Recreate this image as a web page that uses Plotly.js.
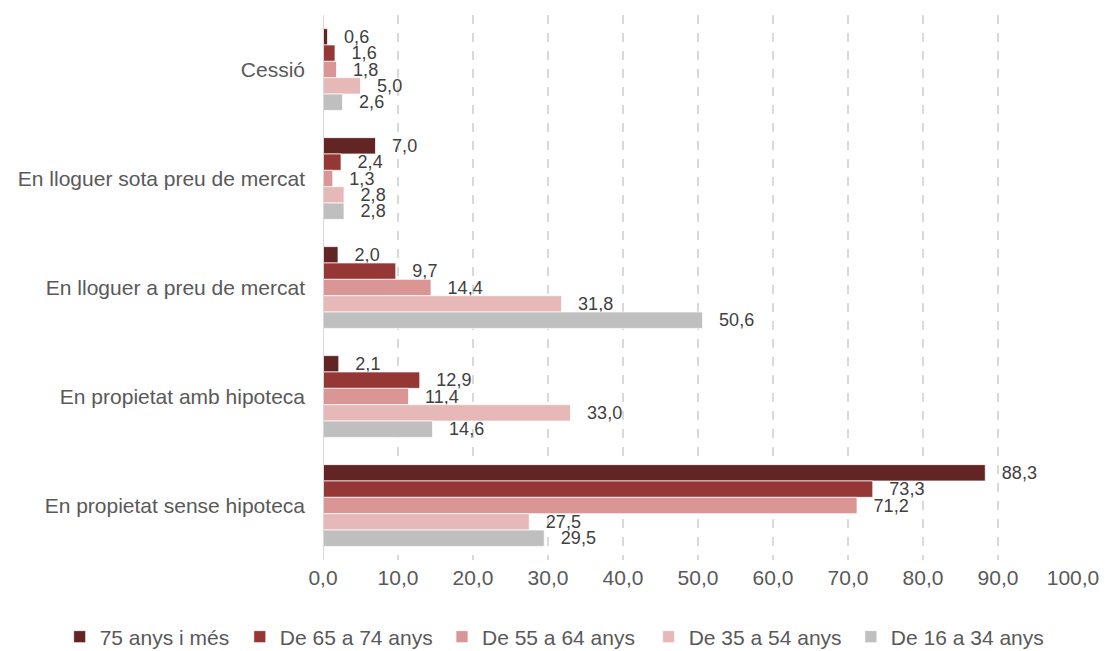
<!DOCTYPE html>
<html>
<head>
<meta charset="utf-8">
<script src="https://cdn.plot.ly/plotly-3.0.1.min.js"></script>
<style>html,body{margin:0;padding:0;background:#fff;}#chart{width:1105px;height:651px;}</style>
</head>
<body>
<div id="chart"></div>
<script>
const categories = ["Cessió", "En lloguer sota preu de mercat", "En lloguer a preu de mercat", "En propietat amb hipoteca", "En propietat sense hipoteca"];
const seriesNames = ["75 anys i més", "De 65 a 74 anys", "De 55 a 64 anys", "De 35 a 54 anys", "De 16 a 34 anys"];
const v75plus = [0.6, 7.0, 2.0, 2.1, 88.3];
const v65_74 = [1.6, 2.4, 9.7, 12.9, 73.3];
const v55_64 = [1.8, 1.3, 14.4, 11.4, 71.2];
const v35_54 = [5.0, 2.8, 31.8, 33.0, 27.5];
const v16_34 = [2.6, 2.8, 50.6, 14.6, 29.5];
const colors = ["#632523", "#953735", "#D99694", "#E6B9B8", "#BFBFBF"];
const xTicks = [0, 10, 20, 30, 40, 50, 60, 70, 80, 90, 100];
// horizontal start (container fraction) of each legend entry
const legendX = [0.054, 0.217, 0.400, 0.587, 0.770];

const FONT = 'Liberation Sans, Arial, sans-serif';
const allValues = [v75plus, v65_74, v55_64, v35_54, v16_34];
const legendIds = allValues.map((_, i) => i === 0 ? 'legend' : 'legend' + (i + 1));
const traces = allValues.map((vals, i) => ({
  type: 'bar',
  orientation: 'h',
  name: seriesNames[i],
  legend: legendIds[i],
  x: vals,
  y: categories,
  marker: {color: colors[i], line: {color: 'rgba(255,255,255,0.7)', width: 1}},
  texttemplate: '\u00a0\u00a0\u2009%{x:.1f}',
  textposition: 'outside',
  constraintext: 'none',
  cliponaxis: false,
  textfont: {family: FONT, size: 18, color: '#404040'},
  hoverinfo: 'x+name'
}));

const layout = {
  width: 1105,
  height: 651,
  margin: {l: 323, r: 32, t: 15, b: 91},
  separators: ',.',
  barmode: 'group',
  bargap: 0.25,
  bargroupgap: 0,
  paper_bgcolor: '#fff',
  plot_bgcolor: '#fff',
  font: {family: FONT, color: '#595959', size: 21},
  xaxis: {
    range: [0, 100],
    tickvals: xTicks,
    tickformat: '.1f',
    showgrid: true,
    gridcolor: '#d9d9d9',
    griddash: 'dash',
    gridwidth: 1.5,
    zeroline: false,
    showline: false,
    ticks: '',
    ticklabelstandoff: 3,
    tickfont: {family: FONT, size: 21, color: '#595959'},
    fixedrange: true
  },
  yaxis: {
    type: 'category',
    autorange: 'reversed',
    showgrid: false,
    zeroline: false,
    showline: false,
    ticks: '',
    ticklabelstandoff: 17,
    tickfont: {family: FONT, size: 21, color: '#595959'},
    fixedrange: true
  },
  shapes: [{type: 'line', xref: 'x', yref: 'paper', x0: 0, x1: 0, y0: 0, y1: 1, line: {color: '#d9d9d9', width: 2}}],
  showlegend: true
};
legendIds.forEach((id, i) => {
  layout[id] = {
    orientation: 'h',
    xref: 'container', yref: 'container',
    x: legendX[i], xanchor: 'left',
    y: 0.0215, yanchor: 'middle',
    font: {family: FONT, size: 21, color: '#595959'},
    itemwidth: 30,
    bgcolor: 'rgba(0,0,0,0)'
  };
});

Plotly.newPlot('chart', traces, layout, {displayModeBar: false, staticPlot: true});
</script>
</body>
</html>
